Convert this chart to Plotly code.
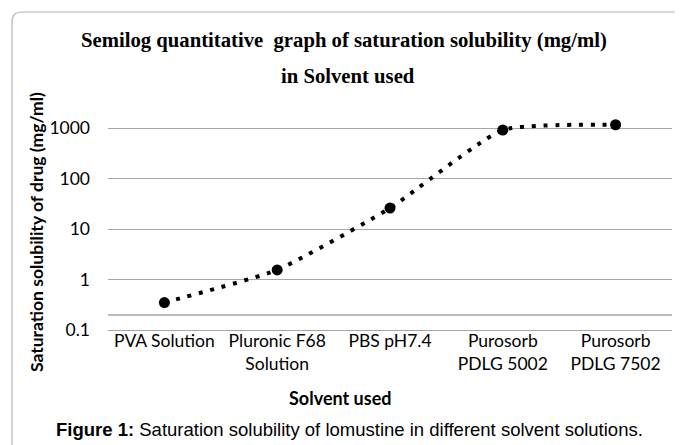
import plotly.graph_objects as go

# ---- data ----
solvents = ["PVA Solution", "Pluronic F68<br>Solution", "PBS pH7.4",
            "Purosorb<br>PDLG 5002", "Purosorb<br>PDLG 7502"]
solubility = [0.35, 1.55, 26, 910, 1160]
y_tick_vals = [0.1, 1, 10, 100, 1000]
y_tick_text = ["0.1", "1", "10", "100", "1000"]
extra_grid_value = 0.198

title_line1 = "Semilog quantitative  graph of saturation solubility (mg/ml)"
title_line2 = "in Solvent used"
y_title = "Saturation solubility of drug (mg/ml)"
x_title = "Solvent used"
caption = "<b>Figure 1:</b> Saturation solubility of lomustine in different solvent solutions."

# ---- layout geometry (pixels) ----
OFF = 8  # page body margin
W, H = 683 - OFF, 445 - OFF
L, R, T, B = 100, 11, 102, 115
PW = W - L - R
PH = H - T - B


def px(x):
    """reference-window x pixel -> paper coordinate"""
    return (x - OFF - L) / PW


def py(y):
    """reference-window y pixel -> paper coordinate"""
    return (H - B - (y - OFF)) / PH


fig = go.Figure()
fig.add_trace(go.Scatter(
    x=solvents, y=solubility, mode="lines+markers",
    line=dict(color="black", width=4, dash="4px,7.8px", shape="spline", smoothing=0.5),
    marker=dict(color="black", size=11),
    showlegend=False, cliponaxis=False,
))

grid_col = "#a6a6a6"
tick_font = dict(family="Lato", size=17.5, color="black")
fig.update_layout(
    width=W, height=H,
    margin=dict(l=L, r=R, t=T, b=B),
    paper_bgcolor="white", plot_bgcolor="white",
    font=dict(family="Lato", size=17.5, color="black"),
    xaxis=dict(
        type="category", showgrid=False, showline=True, linecolor=grid_col,
        linewidth=1.3, ticks="", tickfont=tick_font, ticklabelstandoff=-5,
        range=[-0.5, 4.5], fixedrange=True,
    ),
    yaxis=dict(
        type="log", range=[-1, -1 + PH / 50.5], showgrid=True, gridcolor=grid_col,
        gridwidth=1.3, zeroline=False, showline=False, ticks="",
        tickvals=y_tick_vals, ticktext=y_tick_text, ticklabelstandoff=17,
        tickfont=tick_font,
    ),
)

fig.add_hline(y=extra_grid_value, line=dict(color=grid_col, width=1.3), layer="below")

# rounded border (top-left corner visible)
x0, y0 = px(12), py(12)
rx, ry = 10 / PW, 10 / PH
path = (f"M {x0},{py(470)} L {x0},{y0 - ry} Q {x0},{y0} {x0 + rx},{y0} "
        f"L {px(720)},{y0}")
fig.add_shape(type="path", path=path, xref="paper", yref="paper",
              line=dict(color="#b4b4b4", width=1.2))

serif = "Liberation Serif"
fig.add_annotation(text=f"<b>{title_line1}</b>", x=px(344), y=py(41), xref="paper", yref="paper",
                   showarrow=False, xanchor="center", yanchor="middle",
                   font=dict(family=serif, size=20.7, color="black"))
fig.add_annotation(text=f"<b>{title_line2}</b>", x=px(348), y=py(76), xref="paper", yref="paper",
                   showarrow=False, xanchor="center", yanchor="middle",
                   font=dict(family=serif, size=20.7, color="black"))
fig.add_annotation(text=f"<b>{y_title}</b>", x=px(36), y=py(232), xref="paper", yref="paper",
                   showarrow=False, textangle=-90, xanchor="center", yanchor="middle",
                   font=dict(family="Lato", size=17.5, color="black"))
fig.add_annotation(text=f"<b>{x_title}</b>", x=px(340), y=py(398), xref="paper", yref="paper",
                   showarrow=False, xanchor="center", yanchor="middle",
                   font=dict(family="Lato", size=18, color="black"))
fig.add_annotation(text=caption, x=px(349), y=py(429), xref="paper", yref="paper",
                   showarrow=False, xanchor="center", yanchor="middle",
                   font=dict(family="Liberation Sans", size=18.5, color="black"))

fig.write_html("out.html")
